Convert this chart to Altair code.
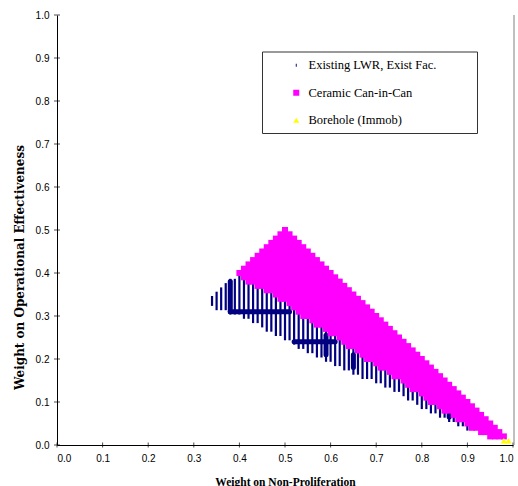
import altair as alt
import pandas as pd

# ---------------- data ----------------
series_names = ["Existing LWR, Exist Fac.", "Ceramic Can-in-Can", "Borehole (Immob)"]
series_colors = ["#000080", "#FF00FF", "#FFFF00"]
axis_ticks = [0.0, 0.1, 0.2, 0.3, 0.4, 0.5, 0.6, 0.7, 0.8, 0.9, 1.0]

# Existing LWR: one column of points per x (0.01 grid), from y_lo to y_hi
blue_x = [0.34, 0.35, 0.36, 0.37, 0.38, 0.39, 0.40, 0.41, 0.42, 0.43, 0.44, 0.45, 0.46, 0.47,
          0.48, 0.49, 0.50, 0.51, 0.52, 0.53, 0.54, 0.55, 0.56, 0.57, 0.58, 0.59, 0.60, 0.61,
          0.62, 0.63, 0.64, 0.65, 0.66, 0.67, 0.68, 0.69, 0.70, 0.71, 0.72, 0.73, 0.74, 0.75,
          0.76, 0.77, 0.78, 0.79, 0.80, 0.81, 0.82, 0.83, 0.84, 0.85, 0.86, 0.87, 0.88, 0.89, 0.90]
blue_lo = [0.33, 0.32, 0.32, 0.32, 0.31, 0.31, 0.31, 0.30, 0.30, 0.29, 0.29, 0.28, 0.27, 0.27,
           0.26, 0.26, 0.25, 0.25, 0.24, 0.23, 0.23, 0.22, 0.22, 0.21, 0.21, 0.20, 0.20, 0.19,
           0.19, 0.18, 0.18, 0.17, 0.17, 0.16, 0.16, 0.16, 0.15, 0.15, 0.14, 0.14, 0.13, 0.13,
           0.12, 0.11, 0.11, 0.10, 0.09, 0.09, 0.08, 0.08, 0.07, 0.07, 0.06, 0.06, 0.05, 0.05, 0.04]
blue_hi = [0.34, 0.35, 0.36, 0.37, 0.38, 0.38, 0.39, 0.38, 0.37, 0.37, 0.36, 0.36, 0.35, 0.35,
           0.34, 0.33, 0.33, 0.32, 0.31, 0.30, 0.29, 0.29, 0.28, 0.27, 0.27, 0.26, 0.25, 0.25,
           0.24, 0.23, 0.22, 0.22, 0.21, 0.20, 0.19, 0.19, 0.18, 0.17, 0.17, 0.16, 0.15, 0.15,
           0.14, 0.13, 0.12, 0.12, 0.11, 0.10, 0.09, 0.09, 0.08, 0.07, 0.07, 0.06, 0.05, 0.05, 0.04]

# denser Existing-LWR runs (diamond-like thick strokes)
run_x1 = [0.38, 0.38, 0.52, 0.59, 0.65, 0.86]
run_y1 = [0.31, 0.31, 0.24, 0.21, 0.18, 0.065]
run_x2 = [0.38, 0.51, 0.61, 0.59, 0.65, 0.86]
run_y2 = [0.38, 0.31, 0.24, 0.255, 0.21, 0.075]

# Ceramic Can-in-Can: one column of points per x, from y_lo to y_hi
mag_x = [0.40, 0.41, 0.42, 0.43, 0.44, 0.45, 0.46, 0.47, 0.48, 0.49, 0.50, 0.51, 0.52, 0.53,
         0.54, 0.55, 0.56, 0.57, 0.58, 0.59, 0.60, 0.61, 0.62, 0.63, 0.64, 0.65, 0.66, 0.67,
         0.68, 0.69, 0.70, 0.71, 0.72, 0.73, 0.74, 0.75, 0.76, 0.77, 0.78, 0.79, 0.80, 0.81,
         0.82, 0.83, 0.84, 0.85, 0.86, 0.87, 0.88, 0.89, 0.90, 0.91, 0.92, 0.93, 0.94, 0.95,
         0.96, 0.97, 0.98]
mag_lo = [0.40, 0.39, 0.38, 0.38, 0.37, 0.37, 0.36, 0.36, 0.35, 0.34, 0.34, 0.33, 0.32, 0.31,
          0.30, 0.30, 0.29, 0.28, 0.28, 0.27, 0.26, 0.26, 0.25, 0.24, 0.23, 0.23, 0.22, 0.21,
          0.20, 0.20, 0.19, 0.18, 0.18, 0.17, 0.16, 0.16, 0.15, 0.14, 0.13, 0.13, 0.12, 0.11,
          0.10, 0.10, 0.09, 0.08, 0.08, 0.07, 0.06, 0.06, 0.05, 0.04, 0.04, 0.03, 0.03, 0.02,
          0.02, 0.02, 0.02]
mag_hi = [0.40, 0.41, 0.42, 0.43, 0.44, 0.45, 0.46, 0.47, 0.48, 0.49, 0.50, 0.49, 0.48, 0.47,
          0.46, 0.45, 0.44, 0.43, 0.42, 0.41, 0.40, 0.39, 0.38, 0.37, 0.36, 0.35, 0.34, 0.33,
          0.32, 0.31, 0.30, 0.29, 0.28, 0.27, 0.26, 0.25, 0.24, 0.23, 0.22, 0.21, 0.20, 0.19,
          0.18, 0.17, 0.16, 0.15, 0.14, 0.13, 0.12, 0.11, 0.10, 0.09, 0.08, 0.07, 0.06, 0.05,
          0.04, 0.03, 0.02]

# Borehole (Immob)
bore_x = [0.98, 0.99]
bore_y = [0.01, 0.01]

# ---------------- tables ----------------
blue_df = pd.DataFrame({"x": blue_x, "lo": blue_lo, "hi": blue_hi})
run_df = pd.DataFrame({"x": run_x1, "lo": run_y1, "x2": run_x2, "hi": run_y2})
mag_df = pd.DataFrame({"x": mag_x, "lo": mag_lo, "hi": mag_hi})
bore_df = pd.DataFrame({"x": bore_x, "lo": bore_y, "series": [series_names[2]] * len(bore_x)})
xtick_df = pd.DataFrame({"x": axis_ticks, "lo": [0.0] * len(axis_ticks)})
ytick_df = pd.DataFrame({"x": [0.0] * len(axis_ticks), "lo": axis_ticks})
deco_df = pd.DataFrame({"k": [0]})

W, H = 456, 430
sc = alt.Scale(domain=[0, 1], nice=False, zero=False)

x_axis = alt.Axis(values=axis_ticks, format=".1f", title="Weight on Non-Proliferation",
                  titleX=228, titleY=37, titleBaseline="middle", titleAlign="center")
y_axis = alt.Axis(values=axis_ticks, format=".1f", title="Weight on Operational Effectiveness",
                  titleX=-38, titleY=252, titleBaseline="middle", titleAlign="center",
                  titleAngle=270, titleFont="DejaVu Serif", titleFontSize=12)

X = alt.X("x:Q", scale=sc, axis=x_axis)
Y = alt.Y("lo:Q", scale=sc, axis=y_axis)

half = 2.8 / H  # half-height of the dash marker in data units

blue = alt.Chart(blue_df).transform_calculate(
    lo=f"datum.lo - {half}", hi=f"datum.hi + {half}"
).mark_rule(color="#000080", strokeWidth=2.2, strokeCap="butt").encode(
    x=X, y=Y, y2="hi:Q",
)

runs = alt.Chart(run_df).mark_rule(color="#000080", strokeWidth=5, strokeCap="round").encode(
    x=X, y=Y, x2="x2:Q", y2="hi:Q",
)

mag = alt.Chart(mag_df).mark_rule(color="#FF00FF", strokeWidth=6, strokeCap="square").encode(
    x=X, y=Y, y2="hi:Q",
)

dash_path = "M-0.16,-0.5L0.16,-0.5L0.16,0.5L-0.16,0.5Z"
leg = alt.Legend(orient="none", legendX=233, legendY=44, title=None, padding=0,
                 labelFont="Liberation Serif", labelFontSize=12.5, labelColor="black",
                 symbolSize=36, rowPadding=14.5, labelOffset=6, symbolStrokeWidth=0)

bore = alt.Chart(bore_df).mark_point(filled=True, size=40, opacity=1).encode(
    x=X, y=Y,
    color=alt.Color("series:N", scale=alt.Scale(domain=series_names, range=series_colors), legend=leg),
    shape=alt.Shape("series:N", scale=alt.Scale(domain=series_names,
                                                range=[dash_path, "square", "triangle-up"]), legend=leg),
)

# tick marks that cross the axis lines, as in the reference
xticks = alt.Chart(xtick_df).mark_tick(orient="vertical", color="black", size=5, thickness=1).encode(
    x=X, y=Y)
yticks = alt.Chart(ytick_df).mark_tick(orient="horizontal", color="black", size=6, thickness=1).encode(
    x=X, y=Y)

box = alt.Chart(deco_df).mark_rect(fill="white", stroke="#333333", strokeWidth=1).encode(
    x=alt.value(205.5), x2=alt.value(420.5), y=alt.value(37), y2=alt.value(118.5)
)

right_edge = alt.Chart(deco_df).mark_rule(color="#808080", strokeWidth=1).encode(
    x=alt.value(457), y=alt.value(0), y2=alt.value(H)
)

chart = alt.layer(blue, runs, mag, bore, xticks, yticks, box, right_edge).properties(
    width=W, height=H,
    padding={"left": 57, "top": 15, "right": 5, "bottom": 41},
    autosize=alt.AutoSizeParams(type="none"),
).configure_view(stroke=None).configure_axis(
    grid=False, domainColor="black", ticks=False,
    labelFont="Liberation Sans", labelFontSize=10, labelColor="black", labelPadding=8,
    titleFont="Liberation Serif", titleFontWeight="bold", titleFontSize=11.5, titleColor="black",
)

chart.save("out.html", embed_options={"renderer": "svg", "actions": False})
